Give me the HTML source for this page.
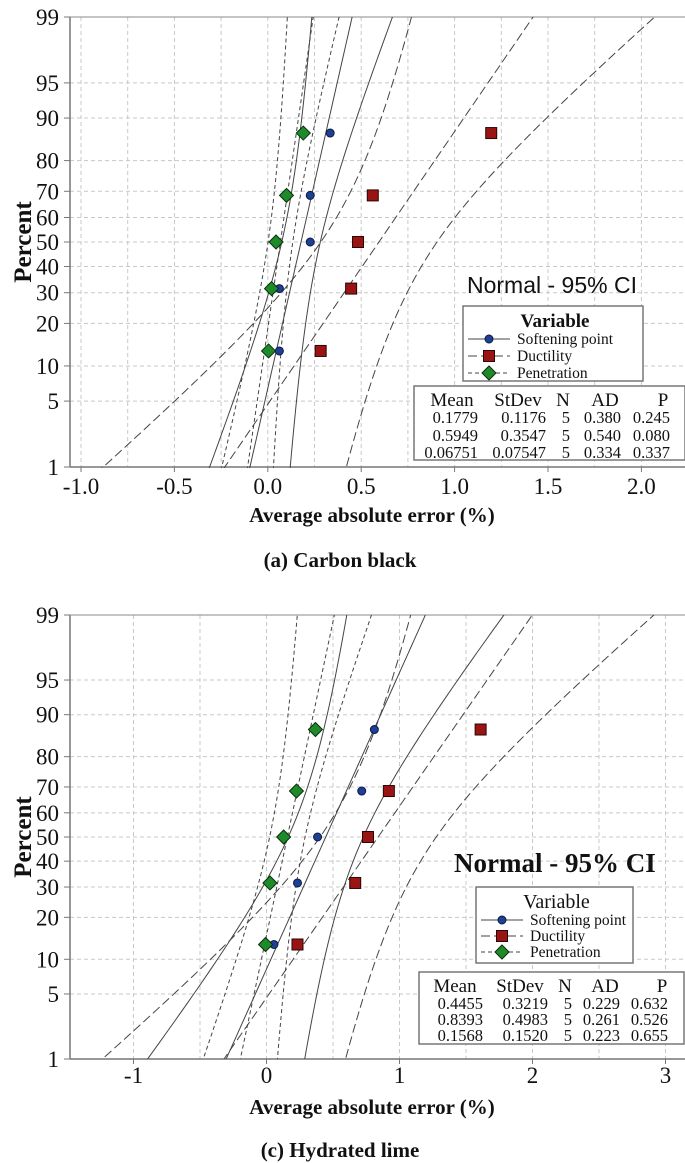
<!DOCTYPE html>
<html><head><meta charset="utf-8"><style>
html,body{margin:0;padding:0;background:#fff;}
svg{display:block;}
text{font-family:"Liberation Serif",serif;fill:#111;}
.sans{font-family:"Liberation Sans",sans-serif;}
</style></head><body>
<svg id="svg" width="685" height="1163" viewBox="0 0 685 1163" xmlns="http://www.w3.org/2000/svg">
<defs>
<clipPath id="clipA"><rect x="70" y="17" width="615" height="451"/></clipPath>
<clipPath id="clipB"><rect x="70" y="615" width="615" height="444"/></clipPath>
</defs>
<g id="chartA"></g>
<g id="chartB"></g>
</svg>
<script>
// ---- data: (a) Carbon black ----
const seriesNames = ["Softening point", "Ductility", "Penetration"];
const percents = [13, 31.5, 50, 68.5, 87];
const aSoftening = [0.062, 0.062, 0.227, 0.227, 0.334];
const aDuctility = [0.283, 0.446, 0.483, 0.562, 1.196];
const aPenetration = [0.004, 0.02, 0.044, 0.10, 0.19];
const aMean = [0.1779, 0.5949, 0.06751];
const aStDev = [0.1176, 0.3547, 0.07547];
const aN = [5, 5, 5];
const aAD = ["0.380", "0.540", "0.334"];
const aP = ["0.245", "0.080", "0.337"];
const aMeanLabels = ["0.1779", "0.5949", "0.06751"];
const aStDevLabels = ["0.1176", "0.3547", "0.07547"];
const aXTicks = [-1.0, -0.5, 0.0, 0.5, 1.0, 1.5, 2.0];
const aXTickLabels = ["-1.0", "-0.5", "0.0", "0.5", "1.0", "1.5", "2.0"];
// ---- data: (c) Hydrated lime ----
const bSoftening = [0.056, 0.233, 0.384, 0.716, 0.811];
const bDuctility = [0.233, 0.667, 0.763, 0.92, 1.61];
const bPenetration = [-0.007, 0.026, 0.129, 0.225, 0.368];
const bMean = [0.4455, 0.8393, 0.1568];
const bStDev = [0.3219, 0.4983, 0.1520];
const bN = [5, 5, 5];
const bAD = ["0.229", "0.261", "0.223"];
const bP = ["0.632", "0.526", "0.655"];
const bMeanLabels = ["0.4455", "0.8393", "0.1568"];
const bStDevLabels = ["0.3219", "0.4983", "0.1520"];
const bXTicks = [-1, 0, 1, 2, 3];
const bXTickLabels = ["-1", "0", "1", "2", "3"];
const yTicks = [1, 5, 10, 20, 30, 40, 50, 60, 70, 80, 90, 95, 99];

const NS = "http://www.w3.org/2000/svg";
function el(parent, tag, attrs, txt) {
  const e = document.createElementNS(NS, tag);
  for (const k in attrs) e.setAttribute(k, attrs[k]);
  if (txt !== undefined) e.textContent = txt;
  parent.appendChild(e);
  return e;
}
function invNorm(p) {
  const a=[-39.69683028665376,220.9460984245205,-275.9285104469687,138.3577518672690,-30.66479806614716,2.506628277459239];
  const b=[-54.47609879822406,161.5858589098650,-155.6989798598866,66.80131188771753,-13.28068155288572];
  const c=[-0.007784894002430293,-0.3223964580411365,-2.400758277161838,-2.549732539343734,4.374664141464968,2.938163982698783];
  const d=[0.007784695709041462,0.3224671290700398,2.445134137142996,3.754408661907416];
  const pl=0.02425; let q,r;
  if (p<pl){q=Math.sqrt(-2*Math.log(p));return (((((c[0]*q+c[1])*q+c[2])*q+c[3])*q+c[4])*q+c[5])/((((d[0]*q+d[1])*q+d[2])*q+d[3])*q+1);}
  if (p>1-pl){q=Math.sqrt(-2*Math.log(1-p));return -(((((c[0]*q+c[1])*q+c[2])*q+c[3])*q+c[4])*q+c[5])/((((d[0]*q+d[1])*q+d[2])*q+d[3])*q+1);}
  q=p-0.5;r=q*q;return (((((a[0]*r+a[1])*r+a[2])*r+a[3])*r+a[4])*r+a[5])*q/(((((b[0]*r+b[1])*r+b[2])*r+b[3])*r+b[4])*r+1);
}
const dashes = ["", "9,4", "4,3"];

function drawChart(g, cfg) {
  const L = 70, R = 685, T = cfg.top, B = cfg.bottom;
  const cy = (T + B) / 2, sy = (B - T) / (2 * invNorm(0.99));
  const X = v => cfg.x0 + v * cfg.xs;
  const Yz = z => cy - z * sy;
  const Y = p => Yz(invNorm(p / 100));
  const grid = el(g, "g", {});
  
  
  for (let v = cfg.gridMin; v <= cfg.gridMax + 1e-9; v += cfg.gridStep) {
    el(grid, "line", {x1: X(v), x2: X(v), y1: T, y2: B, stroke: "#c8c8c8", "stroke-dasharray": "4,3", "stroke-width": 1});
  }
  yTicks.forEach(p => {
    el(grid, "line", {x1: L, x2: R, y1: Y(p), y2: Y(p), stroke: "#c8c8c8", "stroke-dasharray": "4,3", "stroke-width": 1});
  });
  const axes = el(g, "g", {});
  
  
  el(axes, "line", {x1: L, x2: L, y1: T, y2: B, stroke: "#777", "stroke-width": 1.5});
  el(axes, "line", {x1: L, x2: R, y1: T, y2: T, stroke: "#888", "stroke-width": 1});
  el(axes, "line", {x1: L, x2: R, y1: B, y2: B, stroke: "#777", "stroke-width": 1.5});
  yTicks.forEach(p => {
    el(axes, "line", {x1: L - 6, x2: L, y1: Y(p), y2: Y(p), stroke: "#777"});
    const t = el(axes, "text", {x: 59, y: Y(p) + 8, "text-anchor": "end", "font-size": 23}, String(p));
    
    
  });
  cfg.xTicks.forEach((v, i) => {
    el(axes, "line", {x1: X(v), x2: X(v), y1: B, y2: B + 5, stroke: "#777"});
    const t = el(axes, "text", {x: X(v), y: cfg.tickY, "text-anchor": "middle", "font-size": 23}, cfg.xTickLabels[i]);
    
    
  });
  const yt = el(g, "text", {x: 0, y: 0, transform: `translate(31,${cy}) rotate(-90)`, "text-anchor": "middle", "font-size": 25, "font-weight": "bold"}, "Percent");
  
  
  const xt = el(g, "text", {x: 372, y: cfg.titleY, "text-anchor": "middle", "font-size": 21, "font-weight": "bold"}, "Average absolute error (%)");
  
  
  const cap = el(g, "text", {x: 340, y: cfg.capY, "text-anchor": "middle", "font-size": 21, "font-weight": "bold"}, cfg.caption);
  
  
  const lines = el(g, "g", {"clip-path": cfg.clip});
  
  
  const zmax = invNorm(0.995);
  for (let s = 0; s < 3; s++) {
    const m = cfg.mean[s], sd = cfg.sd[s], n = cfg.n[s];
    const fit = [], lo = [], hi = [];
    for (let k = 0; k <= 80; k++) {
      const z = -zmax + 2 * zmax * k / 80;
      const xf = m + sd * z;
      const h = 1.96 * sd * Math.sqrt(1 / n + z * z / (2 * (n - 1)));
      fit.push(X(xf) + "," + Yz(z));
      lo.push(X(xf - h) + "," + Yz(z));
      hi.push(X(xf + h) + "," + Yz(z));
    }
    [fit, lo, hi].forEach((pts, j) => {
      const pl = el(lines, "polyline", {points: pts.join(" "), fill: "none", stroke: "#444", "stroke-width": 1, "stroke-dasharray": dashes[s]});
      
      
    });
  }
  const pts = el(g, "g", {});
  
  
  cfg.data.forEach((arr, s) => {
    arr.forEach((v, i) => {
      const mk = marker(pts, s, X(v), Y(percents[i]));
      
      
    });
  });
  const nt = el(g, "text", cfg.normalAttrs, "Normal - 95% CI");
  
  
  const lg = el(g, "g", {});
  
  
  const lb = cfg.legBox;
  el(lg, "rect", {x: lb[0], y: lb[1], width: lb[2], height: lb[3], fill: "#fff", stroke: "#777", "stroke-width": 1.5});
  el(lg, "text", {x: lb[0] + lb[2] / 2 + 2, y: lb[1] + cfg.varDy, "text-anchor": "middle", "font-size": cfg.varSize, "font-weight": cfg.varWeight}, "Variable");
  seriesNames.forEach((nm, s) => {
    const ry = cfg.rowY[s];
    const e = el(lg, "g", {});
    
    
    el(e, "line", {x1: lb[0] + 5, x2: lb[0] + 47, y1: ry, y2: ry, stroke: "#444", "stroke-dasharray": dashes[s]});
    marker(e, s, lb[0] + 26, ry);
    el(e, "text", {x: lb[0] + 54, y: ry + 5, "font-size": 15.5}, nm);
  });
  const st = el(g, "g", {});
  
  
  const sb = cfg.statBox;
  el(st, "rect", {x: sb[0], y: sb[1], width: sb[2], height: sb[3], fill: "#fff", stroke: "#777", "stroke-width": 1.5});
  const hdr = ["Mean", "StDev", "N", "AD", "P"];
  hdr.forEach((h, i) => el(st, "text", {x: cfg.hdrX[i], y: sb[1] + 20, "text-anchor": "middle", "font-size": 19}, h));
  for (let s = 0; s < 3; s++) {
    const vals = [cfg.meanLab[s], cfg.sdLab[s], String(cfg.n[s]), cfg.ad[s], cfg.p[s]];
    vals.forEach((v, i) => el(st, "text", {x: cfg.colX[i], y: cfg.statRowY[s], "text-anchor": "end", "font-size": 16.5}, v));
  }
}
function marker(parent, s, x, y) {
  if (s === 0) return el(parent, "circle", {cx: x, cy: y, r: 4, fill: "#1f3f95", stroke: "#0a1a40", "stroke-width": 1});
  if (s === 1) return el(parent, "rect", {x: x - 5.5, y: y - 5.5, width: 11, height: 11, fill: "#9a1414", stroke: "#2a0505", "stroke-width": 1});
  return el(parent, "polygon", {points: `${x},${y-7} ${x+7},${y} ${x},${y+7} ${x-7},${y}`, fill: "#1e8a2a", stroke: "#0a300a", "stroke-width": 1});
}

drawChart(document.getElementById("chartA"), {
  top: 17, bottom: 467, x0: 267.8, xs: 186.8, gridMin: -1.0, gridMax: 2.25, gridStep: 0.25,
  xTicks: aXTicks, xTickLabels: aXTickLabels, tickY: 494, titleY: 522, capY: 567, caption: "(a) Carbon black",
  clip: "url(#clipA)", mean: aMean, sd: aStDev, n: aN, data: [aSoftening, aDuctility, aPenetration],
  normalAttrs: {x: 467, y: 293, "font-size": 23, class: "sans"},
  legBox: [463, 306, 180, 75], varDy: 21, varSize: 19, varWeight: "bold", rowY: [339, 356, 373],
  statBox: [414, 386, 271, 74], hdrX: [452, 518, 563, 605, 663], colX: [478, 546, 570, 621, 670],
  statRowY: [423, 441, 458], meanLab: aMeanLabels, sdLab: aStDevLabels, ad: aAD, p: aP
});
drawChart(document.getElementById("chartB"), {
  top: 615, bottom: 1059, x0: 266.5, xs: 133, gridMin: -1.0, gridMax: 3.0, gridStep: 0.5,
  xTicks: bXTicks, xTickLabels: bXTickLabels, tickY: 1083, titleY: 1114, capY: 1157, caption: "(c)  Hydrated lime",
  clip: "url(#clipB)", mean: bMean, sd: bStDev, n: bN, data: [bSoftening, bDuctility, bPenetration],
  normalAttrs: {x: 454, y: 872, "font-size": 27, "font-weight": "bold"},
  legBox: [476, 887, 157, 76], varDy: 21, varSize: 20, varWeight: "normal", rowY: [920, 936, 952],
  statBox: [419, 972, 265, 72], hdrX: [455, 520, 565, 605, 662], colX: [483, 548, 572, 620, 668],
  statRowY: [1009, 1025, 1041], meanLab: bMeanLabels, sdLab: bStDevLabels, ad: bAD, p: bP
});
</script>
</body></html>
